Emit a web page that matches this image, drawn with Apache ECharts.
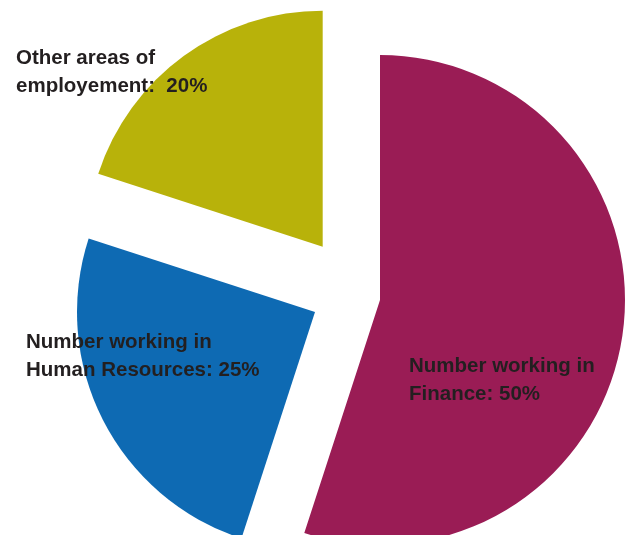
<!DOCTYPE html>
<html>
<head>
<meta charset="utf-8">
<script src="https://cdn.jsdelivr.net/npm/echarts@6/dist/echarts.min.js"></script>
<style>
  html, body { margin: 0; padding: 0; background: #ffffff; }
  #chart { width: 632px; height: 535px; }
</style>
</head>
<body>
<div id="chart"></div>
<script>
const categories = ["Number working in Finance", "Number working in Human Resources", "Other areas of employement"];
const values = [55, 25, 20];
const labelTexts = [
  "Number working in\nFinance: 50%",
  "Number working in\nHuman Resources: 25%",
  "Other areas of\nemployement:  20%"
];

// Styling / layout (exploded slices)
const colors = ["#9A1C55", "#0E6AB3", "#B8B20A"];
const centers = [[380, 300], [315, 312], [322.7, 246.7]];
const radii = [245, 238, 236];
const labelPos = [[409, 380], [26, 356], [16, 72]];

const chart = echarts.init(document.getElementById('chart'), null, { renderer: 'canvas' });

const series = categories.map((cat, i) => ({
  type: 'pie',
  silent: true,
  animation: false,
  startAngle: 90,
  clockwise: true,
  center: centers[i],
  radius: [0, radii[i]],
  avoidLabelOverlap: false,
  labelLine: { show: false },
  label: {
    show: true,
    position: 'inside',
    color: '#231F20',
    fontFamily: 'Liberation Sans, Arial, sans-serif',
    fontWeight: 'bold',
    fontSize: 20.5,
    lineHeight: 28,
    align: 'left',
    formatter: (p) => labelTexts[p.dataIndex]
  },
  labelLayout: { x: labelPos[i][0], y: labelPos[i][1], align: 'left', verticalAlign: 'middle' },
  itemStyle: { borderWidth: 0 },
  data: values.map((v, j) => ({
    value: v,
    name: categories[j],
    itemStyle: { color: j === i ? colors[i] : 'rgba(0,0,0,0)' },
    label: { show: j === i }
  }))
}));

chart.setOption({
  backgroundColor: '#ffffff',
  legend: { show: false },
  tooltip: { show: false },
  series: series
});
</script>
</body>
</html>
